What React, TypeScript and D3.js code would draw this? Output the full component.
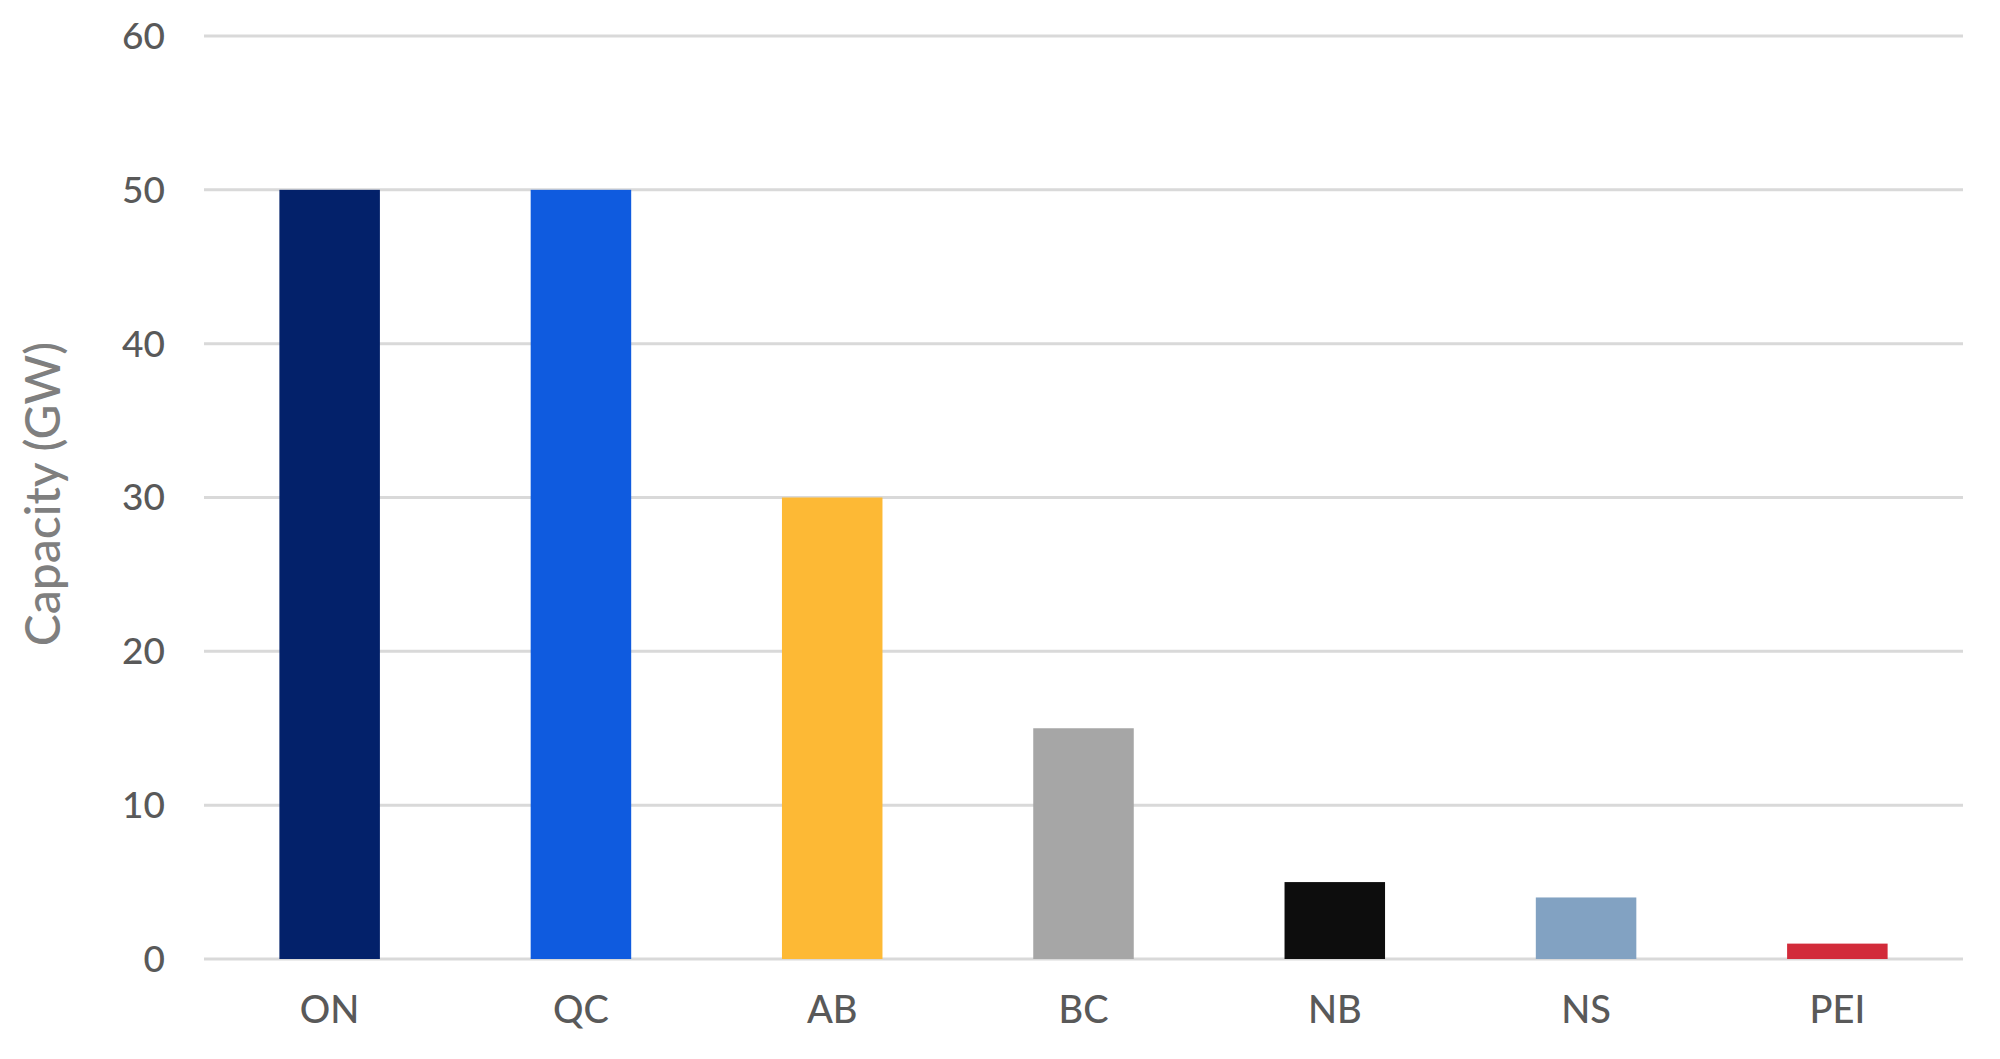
import React from "react";
import * as d3 from "d3";

const categories = ["ON", "QC", "AB", "BC", "NB", "NS", "PEI"];
const capacityGW = [50, 50, 30, 15, 5, 4, 1];
const barColors = ["#03216a", "#0f5bdf", "#fdb935", "#a6a6a6", "#0d0d0d", "#82a2c2", "#d22b3a"];
const yTicks = [0, 10, 20, 30, 40, 50, 60];
const yTitle = "Capacity (GW)";

const W = 2000;
const H = 1059;
const left = 204;
const right = 1963;
const top = 36;
const bottom = 959;

export default function App() {
  const x = d3.scaleBand<string>().domain(categories).range([left, right]).paddingInner(0.6).paddingOuter(0.3);
  const y = d3.scaleLinear().domain([0, 60]).range([bottom, top]);
  const font = "Lato, 'Noto Sans', sans-serif";
  return (
    <svg width={W} height={H} style={{ position: "absolute", left: 0, top: 0, background: "#fff" }}>
      <rect x={0} y={0} width={W} height={H} fill="#fff" />
      {yTicks.map((t) => (
        <g key={t}>
          <line x1={left} x2={right} y1={y(t)} y2={y(t)} stroke="#d9d9d9" strokeWidth={3} />
          <text x={165} y={y(t)} dy="0.35em" textAnchor="end" fontFamily={font} fontSize={37} fontWeight={500} fill="#595959">
            {t}
          </text>
        </g>
      ))}
      {categories.map((c, i) => (
        <rect key={c} x={x(c)} y={y(capacityGW[i])} width={x.bandwidth()} height={y(0) - y(capacityGW[i])} fill={barColors[i]} />
      ))}
      {categories.map((c) => (
        <text key={c} x={(x(c) as number) + x.bandwidth() / 2} y={1023} textAnchor="middle" fontFamily={font} fontSize={38} fontWeight={500} fill="#595959">
          {c}
        </text>
      ))}
      <text
        transform={`translate(60, 494) rotate(-90)`}
        textAnchor="middle"
        fontFamily={font}
        fontSize={48}
        fontWeight={500}
        fill="#7f7f7f"
      >
        {yTitle}
      </text>
    </svg>
  );
}
